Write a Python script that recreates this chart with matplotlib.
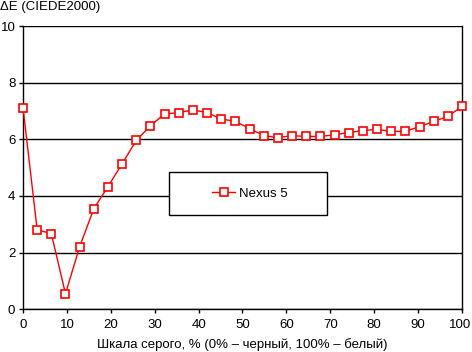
import matplotlib
matplotlib.use("Agg")
import matplotlib.pyplot as plt
from matplotlib.patches import Rectangle
from matplotlib.transforms import ScaledTranslation
import numpy as np

plt.rcParams['font.family'] = ['Liberation Sans', 'DejaVu Sans']

series_name = "Nexus 5"
x_values = [i * 100 / 31 for i in range(32)]
y_values = [7.12, 2.81, 2.67, 0.55, 2.21, 3.55, 4.33, 5.14, 5.96, 6.48,
            6.90, 6.94, 7.04, 6.94, 6.72, 6.63, 6.38, 6.13, 6.06, 6.13,
            6.10, 6.10, 6.16, 6.24, 6.31, 6.35, 6.28, 6.28, 6.45, 6.63,
            6.81, 7.16]
x_ticks = [0, 10, 20, 30, 40, 50, 60, 70, 80, 90, 100]
y_ticks = [0, 2, 4, 6, 8, 10]
title = "ΔE (CIEDE2000)"
xlabel = "Шкала серого, % (0% – черный, 100% – белый)"

W, H = 472, 352
fig = plt.figure(figsize=(W / 100, H / 100), dpi=100)
ax = fig.add_axes([23 / W, 1 - 309.3 / H, (462 - 23) / W, (309.3 - 26) / H])

ax.set_xlim(0, 100)
ax.set_ylim(0, 10)
ax.set_yticks(y_ticks)
ax.set_xticks(x_ticks)
ax.yaxis.grid(True, color='black', linewidth=1.0)
ax.set_axisbelow(True)
for s in ax.spines.values():
    s.set_color('black')
    s.set_linewidth(1.0)
ax.spines['top'].set_visible(False)
ax.tick_params(axis='both', direction='out', length=3, width=1, colors='black',
               labelsize=9.5)
ax.tick_params(axis='y', pad=2.5)
ax.tick_params(axis='x', pad=4)

line, = ax.plot(x_values, y_values, color='#ff0000', linewidth=1.0,
                marker='s', markersize=5.3, markerfacecolor='white',
                markeredgecolor='#ff0000', markeredgewidth=1.2,
                label=series_name, clip_on=False, zorder=3)

fig.canvas.draw()
xl = ax.get_xticklabels()
xl[-1].set_transform(xl[-1].get_transform() + ScaledTranslation(-2 / 100, 0, fig.dpi_scale_trans))

fig.text(0, 1 - 1 / H, title, ha='left', va='top', fontsize=9.5)
fig.text(242 / W, 1 - 345 / H, xlabel, ha='center', va='center', fontsize=9.5)

# legend box
rect = Rectangle((169 / W, 1 - 215 / H), 158 / W, 43 / H, transform=fig.transFigure,
                 facecolor='white', edgecolor='black', linewidth=1.0, zorder=5)
fig.patches.append(rect)
leg = fig.legend(handles=[line], labels=[series_name], loc='center',
                 bbox_to_anchor=(250 / W, 1 - 193.5 / H), frameon=False,
                 fontsize=9.5, handlelength=1.7, handletextpad=0.3,
                 borderpad=0)
leg.set_zorder(6)

fig.savefig("out.png", dpi=100)
